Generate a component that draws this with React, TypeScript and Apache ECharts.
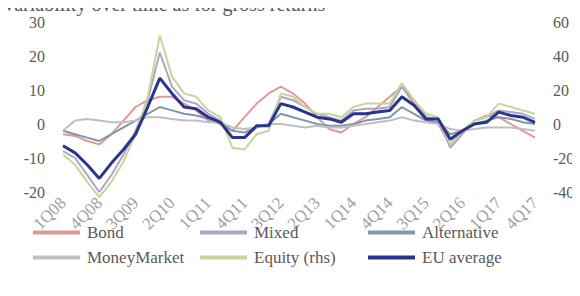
import React, { useEffect, useRef } from "react";
import * as echarts from "echarts";

const quarters: string[] = [];
for (let y = 8; y <= 17; y++) {
  for (let q = 1; q <= 4; q++) quarters.push(`${q}Q${y < 10 ? "0" + y : y}`);
}

const bond = [-3, -3.5, -5, -6, -3, 1, 5, 7, 8, 8, 6, 4, 1, 0, -2, 2, 6, 9, 11, 9, 6, 2, -1.5, -2.5, 0, 2, 5, 8, 11, 6, 2, 0, -6, -2, 1, 2.5, 2, 0, -2, -4];
const mixed = [-8, -10, -15, -20, -15, -9, -2, 7, 21, 11, 7, 6, 3, 1, -4, -4, -1, 0, 8, 7, 5, 3, 2, 1, 4, 4.5, 4.5, 5, 11, 7, 2, 1.5, -7, -3, 1, 2, 4, 3.5, 3, 1.5];
const alternative = [-2, -3, -4, -5, -3, -1, 1, 3, 5, 4, 3, 2.5, 1.5, 0.5, -2, -2.5, -1, 0, 3, 2, 1, 0, -0.5, -0.5, 0, 1, 1.5, 2, 5, 3, 1, 0.5, -3, -2, 0, 1, 2, 1.5, 0.5, 0];
const moneyMarket = [-2, 1, 1.5, 1, 0.5, 0.5, 1, 2, 2, 1.5, 1, 1, 0.5, 0.5, -1, -1.5, -1, 0, 0, -0.5, -1, -0.5, -1, -1, -0.5, 0, 0.5, 1, 2, 1, 0.5, 0, -1.5, -2, -1.5, -1, -1, -1, -1.5, -2];
const equity = [-18, -24, -34, -43, -34, -22, -6, 16, 52, 28, 18, 16, 8, 4, -14, -15, -6, -4, 18, 16, 10, 6, 6, 4, 10, 12, 12, 12, 24, 14, 6, 4, -12, -4, 2, 4, 12, 10, 8, 6];
const euAverage = [-6.4, -8.5, -12, -16, -11.5, -7.5, -3, 5, 13.5, 9, 5, 4.5, 2, 0.5, -4, -4, -0.5, -0.5, 6, 5, 3.5, 2, 1.5, 0.5, 3, 3, 3.5, 4, 8, 5.5, 1.5, 1.5, -4.5, -2, 0, 0.5, 3.5, 2.5, 2, 0.5];

const names = ["Bond", "Mixed", "Alternative", "MoneyMarket", "Equity (rhs)", "EU average"];
const colors = ["#dd9a95", "#b3a2c7", "#8096ad", "#bfbfbf", "#c3d69b", "#27368a"];
const dataSets = [bond, mixed, alternative, moneyMarket, equity, euAverage];

const FONT = "'Liberation Serif', 'DejaVu Serif', serif";

export default function App() {
  const ref = useRef<HTMLDivElement>(null);
  useEffect(() => {
    if (!ref.current) return;
    const chart = echarts.init(ref.current, null, { renderer: "svg" });
    const legendPos = [
      [33, 224], [200, 224], [368, 224],
      [33, 249], [200, 249], [368, 249],
    ];
    chart.setOption({
      animation: false,
      graphic: [
        {
          type: "text",
          left: 2,
          top: -6,
          style: { text: "Variability over time as for gross returns", font: `20px ${FONT}`, fill: "#595959" },
        },
      ],
      legend: names.map((n, i) => ({
        data: [n],
        left: legendPos[i][0],
        top: legendPos[i][1],
        icon: "rect",
        itemWidth: 47,
        itemHeight: 4,
        itemGap: 0,
        padding: 0,
        textStyle: { fontFamily: FONT, fontSize: 17, color: "#595959", padding: [0, 0, 0, 2] },
      })),
      grid: { left: 63, right: 45, top: 22, bottom: 104 },
      xAxis: {
        type: "category",
        data: quarters,
        boundaryGap: false,
        axisLine: { show: false },
        axisTick: { show: false },
        axisLabel: {
          interval: 2,
          rotate: 45,
          fontFamily: FONT,
          fontSize: 17,
          color: "#a0a0a0",
          margin: 8,
        },
      },
      yAxis: [
        {
          type: "value",
          min: -20,
          max: 30,
          interval: 10,
          splitLine: { show: false },
          axisLine: { show: false },
          axisTick: { show: false },
          axisLabel: { fontFamily: FONT, fontSize: 16, color: "#595959", margin: 18 },
        },
        {
          type: "value",
          min: -40,
          max: 60,
          interval: 20,
          splitLine: { show: false },
          axisLine: { show: false },
          axisTick: { show: false },
          axisLabel: { fontFamily: FONT, fontSize: 16, color: "#595959", margin: 18, align: "left" },
        },
      ],
      series: names.map((n, i) => ({
        name: n,
        type: "line",
        data: dataSets[i],
        yAxisIndex: n === "Equity (rhs)" ? 1 : 0,
        showSymbol: false,
        symbol: "none",
        clip: false,
        z: n === "EU average" ? 10 : 2,
        lineStyle: { color: colors[i], width: n === "EU average" ? 3 : 2 },
        itemStyle: { color: colors[i] },
      })),
    });
    return () => chart.dispose();
  }, []);
  return <div ref={ref} style={{ width: 580, height: 296, margin: -8 }} />;
}
